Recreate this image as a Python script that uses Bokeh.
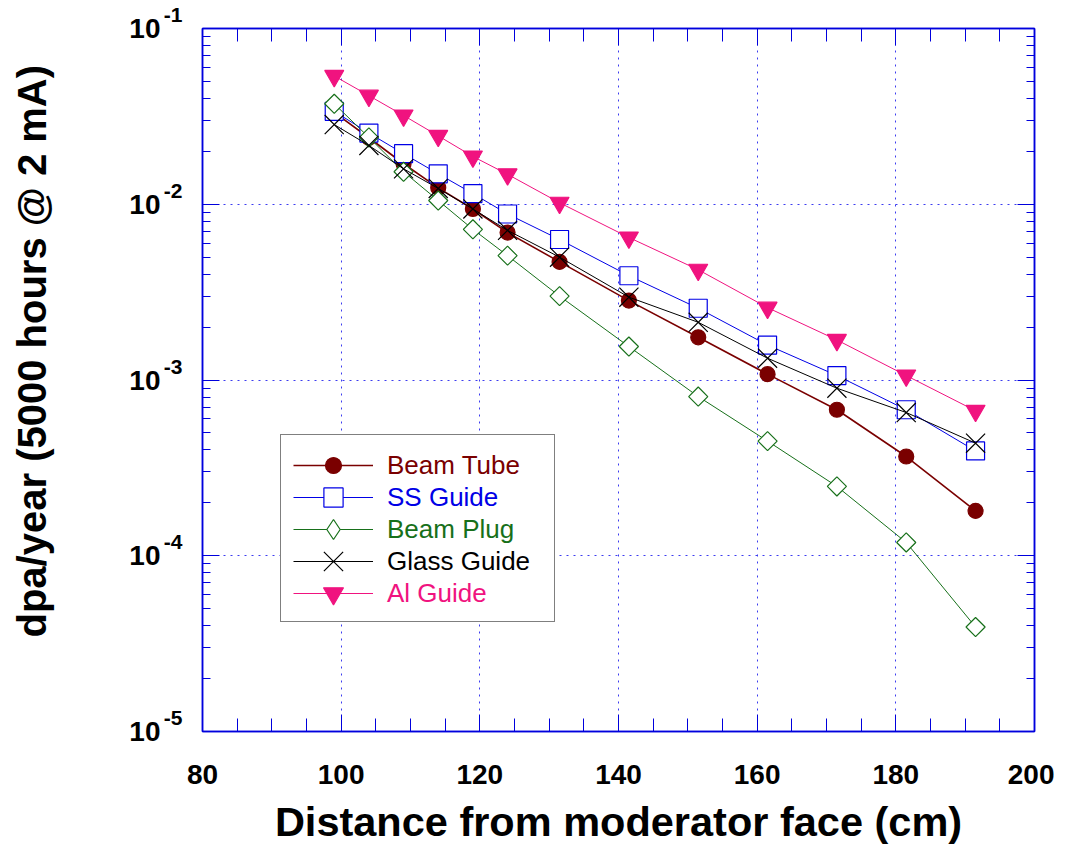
import math
from bokeh.plotting import figure
from bokeh.models import (FixedTicker, LinearAxis, LogAxis, CustomJSTickFormatter,
                          Legend, LegendItem, Title)
from bokeh.embed import file_html
from bokeh.resources import INLINE

# ---------------- data ----------------
distance = [99, 104, 109, 114, 119, 124, 131.5, 141.5, 151.5, 161.5, 171.5, 181.5, 191.5]
beam_tube = [0.0333, 0.0239, 0.0170, 0.0124, 0.0094, 0.0069, 0.0047,
             0.00283, 0.00175, 0.00108, 0.000677, 0.000367, 0.000180]
ss_guide = [0.0338, 0.0254, 0.0194, 0.0149, 0.0115, 0.0088, 0.0063,
            0.00392, 0.00256, 0.00158, 0.00106, 0.000677, 0.000395]
beam_plug = [0.0373, 0.0240, 0.0153, 0.0105, 0.0072, 0.0051, 0.0030,
             0.00155, 0.000805, 0.000449, 0.000248, 0.000119, 0.0000393]
glass_guide = [0.0284, 0.0216, 0.0159, 0.0123, 0.0094, 0.0071, 0.0050,
               0.00296, 0.00213, 0.00133, 0.000898, 0.000653, 0.000437]
al_guide = [0.0537, 0.0415, 0.0320, 0.0245, 0.0187, 0.0148, 0.0102,
            0.00647, 0.00424, 0.00258, 0.00169, 0.00106, 0.000668]

series_names = ["Beam Tube", "SS Guide", "Beam Plug", "Glass Guide", "Al Guide"]

x_ticks = [80, 100, 120, 140, 160, 180, 200]
y_exponents = [-1, -2, -3, -4, -5]

x_label = "Distance from moderator face (cm)"
y_label = "dpa/year (5000 hours @ 2 mA)"

BLUE_AX = "#0000DD"
FONT = "Liberation Sans"

p = figure(frame_width=832, frame_height=703,
           x_range=(80, 200), y_range=(1e-5, 1e-1), y_axis_type="log",
           output_backend="svg", toolbar_location=None,
           min_border_left=202, min_border_top=28, min_border_right=20, min_border_bottom=100)
p.background_fill_color = "white"
p.border_fill_color = "white"
p.outline_line_color = BLUE_AX
p.outline_line_width = 1.5

y_major = [10.0 ** e for e in y_exponents]
y_minor = [k * 10.0 ** e for e in range(-5, -1) for k in range(2, 10)]
x_minor = [v for v in range(80, 201, 5) if v % 20 != 0]

xt = FixedTicker(ticks=x_ticks, minor_ticks=x_minor)
yt = FixedTicker(ticks=y_major, minor_ticks=y_minor)


def style_axis(ax, major_in, minor_in):
    ax.axis_line_color = BLUE_AX
    ax.axis_line_width = 1.5
    ax.major_tick_line_color = BLUE_AX
    ax.minor_tick_line_color = BLUE_AX
    ax.major_tick_in = major_in
    ax.major_tick_out = 0
    ax.minor_tick_in = minor_in
    ax.minor_tick_out = 0


def hidden_axis(ax, tick_out=0):
    ax.axis_line_color = None
    ax.major_tick_line_color = None
    ax.minor_tick_line_color = None
    ax.major_tick_in = 0
    ax.major_tick_out = tick_out
    ax.minor_tick_in = 0
    ax.minor_tick_out = 0


xa = p.xaxis[0]
xa.ticker = xt
style_axis(xa, 17, 13)
xa.major_label_text_font = FONT
xa.major_label_text_font_style = "bold"
xa.major_label_text_font_size = "28px"
xa.major_label_text_color = "black"
xa.major_label_standoff = 33
xa.axis_label = x_label
xa.axis_label_text_font = FONT
xa.axis_label_text_font_style = "bold"
xa.axis_label_text_font_size = "41.5px"
xa.axis_label_text_color = "black"
xa.axis_label_standoff = 11

# inner left axis: exponent superscripts (raised via a blank second line)
ya = p.yaxis[0]
ya.ticker = yt
style_axis(ya, 17, 8)
ya.formatter = CustomJSTickFormatter(
    code="return String(Math.round(Math.log10(tick))) + '\\n '")
ya.major_label_text_font = FONT
ya.major_label_text_font_style = "bold"
ya.major_label_text_font_size = "21px"
ya.major_label_text_color = "black"
ya.major_label_standoff = 20

# outer left axis: the "10" bases
ya2 = LogAxis(ticker=yt, formatter=CustomJSTickFormatter(code="return '10'"))
hidden_axis(ya2)
ya2.major_label_text_font = FONT
ya2.major_label_text_font_style = "bold"
ya2.major_label_text_font_size = "28px"
ya2.major_label_text_color = "black"
ya2.major_label_standoff = 0
p.add_layout(ya2, "left")

# invisible spacer axis (hidden ticks) to place the y title further out
spacer = LogAxis(ticker=yt, formatter=CustomJSTickFormatter(code="return ''"))
hidden_axis(spacer, tick_out=64)
p.add_layout(spacer, "left")

ytitle = Title(text=y_label, align="left", vertical_align="middle", text_font=FONT,
               text_font_style="bold", text_font_size="40px", text_color="black",
               offset=94, standoff=16)
p.add_layout(ytitle, "left")

blank = CustomJSTickFormatter(code="return ''")
top = LinearAxis(ticker=xt, formatter=blank, major_label_text_font_size="0px")
style_axis(top, 17, 13)
p.add_layout(top, "above")
right = LogAxis(ticker=yt, formatter=blank, major_label_text_font_size="0px")
style_axis(right, 17, 8)
p.add_layout(right, "right")

p.xgrid.ticker = xt
p.ygrid.ticker = yt
for g in (p.xgrid, p.ygrid):
    g.grid_line_color = "#3C3CF0"
    g.grid_line_dash = "2 5"
    g.grid_line_width = 1.0

# name, values, colour, marker, plot size, line width, filled, legend marker, legend glyph height
series = [
    (series_names[0], beam_tube, "#7A0000", "circle", 15, 1.6, True, "circle", 40),
    (series_names[1], ss_guide, "#0000E6", "square", 18, 1.0, False, "square", 48),
    (series_names[2], beam_plug, "#17701A", "diamond_sq", 13.5, 1.0, False, "diamond", 50),
    (series_names[3], glass_guide, "#000000", "x", 27, 1.0, False, "x", 68),
    (series_names[4], al_guide, "#F0137F", "inverted_triangle", 19, 1.0, True,
     "inverted_triangle", 50),
]


def add_series(xs, ys, col, mk, sz, lw, filled):
    r1 = p.line(xs, ys, line_color=col, line_width=lw)
    if mk == "diamond_sq":
        r2 = p.scatter(xs, ys, marker="square", size=sz, angle=math.pi / 4,
                       line_color=col, fill_color="white", line_width=1.2)
    else:
        r2 = p.scatter(xs, ys, marker=mk, size=sz, line_color=col,
                       fill_color=col if filled else "white",
                       fill_alpha=1.0, line_width=1.2)
    return r1, r2


renderers = []
for name, ys, col, mk, sz, lw, filled, lmk, gh in series:
    r1, r2 = add_series(distance, ys, col, mk, sz, lw, filled)
    if lmk != mk:
        # legend-only marker shape (hidden in the plot area)
        r2 = p.scatter(distance, ys, marker=lmk, size=sz, line_color=col,
                       fill_color="white", line_width=1.2, visible=False)
    renderers.append((r1, r2))

# legend frame (box only)
LEG_X, LEG_Y, PAD, ROW, GW, STAND = 78, 109, 13, 32, 80, 14
box_dummy = p.scatter([], [], size=1, fill_alpha=0, line_alpha=0)
frame_leg = Legend(items=[LegendItem(label=" ", renderers=[box_dummy])],
                   location=(LEG_X, LEG_Y))
frame_leg.border_line_color = "black"
frame_leg.border_line_width = 1.5
frame_leg.background_fill_color = "white"
frame_leg.background_fill_alpha = 1.0
frame_leg.padding = PAD
frame_leg.margin = 0
frame_leg.spacing = 0
frame_leg.glyph_width = GW
frame_leg.glyph_height = ROW * len(series)
frame_leg.label_height = ROW * len(series)
frame_leg.label_width = 153
frame_leg.label_standoff = STAND
frame_leg.label_text_font_size = "26px"
p.add_layout(frame_leg, "center")

# one overlay legend per series, coloured labels
n = len(series)
for i, (name, ys, col, mk, sz, lw, filled, lmk, gh) in enumerate(series):
    d1, d2 = renderers[i]
    row_center = LEG_Y + PAD + (n - 1 - i) * ROW + ROW / 2
    leg = Legend(items=[LegendItem(label=name, renderers=[d1, d2])],
                 location=(LEG_X + PAD, row_center - gh / 2))
    leg.border_line_color = None
    leg.background_fill_alpha = 0
    leg.padding = 0
    leg.margin = 0
    leg.spacing = 0
    leg.glyph_width = GW
    leg.glyph_height = gh
    leg.label_height = gh
    leg.label_standoff = STAND
    leg.label_text_font = FONT
    leg.label_text_font_size = "26px"
    leg.label_text_color = col
    leg.label_text_baseline = "middle"
    p.add_layout(leg, "center")

open("out.html", "w").write(file_html(p, INLINE))
